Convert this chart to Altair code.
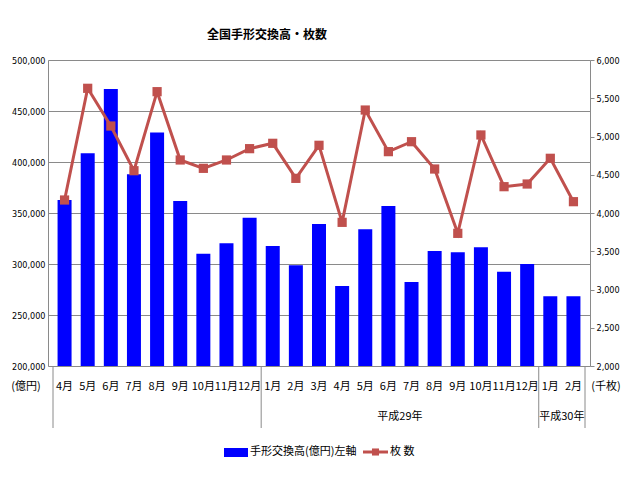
import altair as alt
import pandas as pd

months = ["4月", "5月", "6月", "7月", "8月", "9月", "10月", "11月", "12月",
          "1月", "2月", "3月", "4月", "5月", "6月", "7月", "8月", "9月", "10月", "11月", "12月",
          "1月", "2月"]
amount = [362700, 408500, 471600, 388000, 428800, 361800, 310000, 320300, 345400,
          317600, 298700, 339200, 278400, 334000, 356900, 282400, 312700, 311400, 316300, 292500, 300000,
          268300, 268300]
count = [4170, 5630, 5137, 4553, 5586, 4693, 4584, 4693, 4841,
         4911, 4453, 4885, 3878, 5346, 4802, 4932, 4575, 3734, 5020, 4344, 4379,
         4715, 4148]
group_bounds = [0, 9, 21, 23]
year_names = ["平成29年", "平成30年"]
year_centers = [(9 + 21) / 2, (21 + 23) / 2]

left_ticks = list(range(200000, 500001, 50000))
right_ticks = list(range(2000, 6001, 500))

W, H = 542, 306
CJK = "Noto Sans CJK JP"
NUM = "DejaVu Sans Condensed"
GRID = "#8a8a8a"
RED = "#C0504D"
BLUE = "#0000FF"

df = pd.DataFrame({"i": list(range(len(months))), "month": months,
                   "amount": amount, "count": count})
xs = alt.Scale(domain=[0, 23], nice=False, zero=False)

base = alt.Chart(df).transform_calculate(pos="datum.i + 0.5")

bars = base.mark_bar(size=14, color=BLUE, clip=True).encode(
    x=alt.X("pos:Q", scale=xs, axis=None),
    y=alt.Y("amount:Q", scale=alt.Scale(domain=[200000, 500000], nice=False, zero=False),
            axis=alt.Axis(values=left_ticks, format=",d", grid=True, gridColor=GRID,
                          domainColor=GRID, ticks=False, labelPadding=3, labelFont=NUM,
                          labelFontSize=9, labelColor="#000", title=None)),
)

line = base.mark_line(color=RED, strokeWidth=3,
                      point=alt.OverlayMarkDef(shape="square", size=85, color=RED, filled=True, opacity=1)).encode(
    x=alt.X("pos:Q", scale=xs, axis=None),
    y=alt.Y("count:Q", scale=alt.Scale(domain=[2000, 6000], nice=False, zero=False),
            axis=alt.Axis(orient="right", values=right_ticks, format=",d", grid=False,
                          domainColor=GRID, tickColor=GRID, tickSize=4, labelPadding=2,
                          labelFont=NUM, labelFontSize=9, labelColor="#000", title=None)),
)

month_text = base.mark_text(font=CJK, fontSize=11, baseline="middle", color="#000").encode(
    x=alt.X("pos:Q", scale=xs, axis=None),
    y=alt.value(H + 21),
    text="month:N",
)

sep = alt.Chart(pd.DataFrame({"b": group_bounds})).mark_rule(color=GRID, strokeWidth=1).encode(
    x=alt.X("b:Q", scale=xs, axis=None),
    y=alt.value(H),
    y2=alt.value(H + 62),
)

years = alt.Chart(pd.DataFrame({"c": year_centers, "name": year_names})).mark_text(
    font=CJK, fontSize=11, baseline="middle", color="#000").encode(
    x=alt.X("c:Q", scale=xs, axis=None),
    y=alt.value(H + 51),
    text="name:N",
)

units = alt.Chart(pd.DataFrame({"t": ["(億円)", "(千枚)"], "px": [-22, W + 16]})).mark_text(
    font=CJK, fontSize=11, baseline="middle", color="#000").encode(
    x=alt.X("px:Q", scale=None),
    y=alt.value(H + 21),
    text="t:N",
)

title = alt.Chart(pd.DataFrame({"t": ["全国手形交換高・枚数"]})).mark_text(
    font=CJK, fontSize=12, fontWeight="bold", baseline="middle", align="center", color="#000").encode(
    x=alt.value(219), y=alt.value(-25), text="t:N")

leg_rect = alt.Chart(pd.DataFrame({"k": [1]})).mark_rect(color=BLUE).encode(
    x=alt.value(176), x2=alt.value(200), y=alt.value(388), y2=alt.value(397))
leg_line = alt.Chart(pd.DataFrame({"k": [1]})).mark_rule(color=RED, strokeWidth=3).encode(
    x=alt.value(315), x2=alt.value(340), y=alt.value(392))
leg_pt = alt.Chart(pd.DataFrame({"k": [1]})).mark_point(shape="square", size=50, color=RED,
                                                        filled=True, opacity=1).encode(
    x=alt.value(327.5), y=alt.value(392))
leg_text = alt.Chart(pd.DataFrame({"t": ["手形交換高(億円)左軸", "枚 数"], "px": [202, 342]})).mark_text(
    font=CJK, fontSize=11, baseline="middle", align="left", color="#000").encode(
    x=alt.X("px:Q", scale=None), y=alt.value(392), text="t:N")

chart = alt.layer(bars, line, month_text, sep, years, units, title,
                  leg_rect, leg_line, leg_pt, leg_text).resolve_scale(
    y="independent"
).properties(
    width=W, height=H,
    autosize=alt.AutoSizeParams(type="none"),
    padding={"left": 40, "top": 52, "right": 34, "bottom": 100},
).configure_view(stroke=None).configure(background="white")

chart.save("out.html", embed_options={"renderer": "svg", "actions": False})
